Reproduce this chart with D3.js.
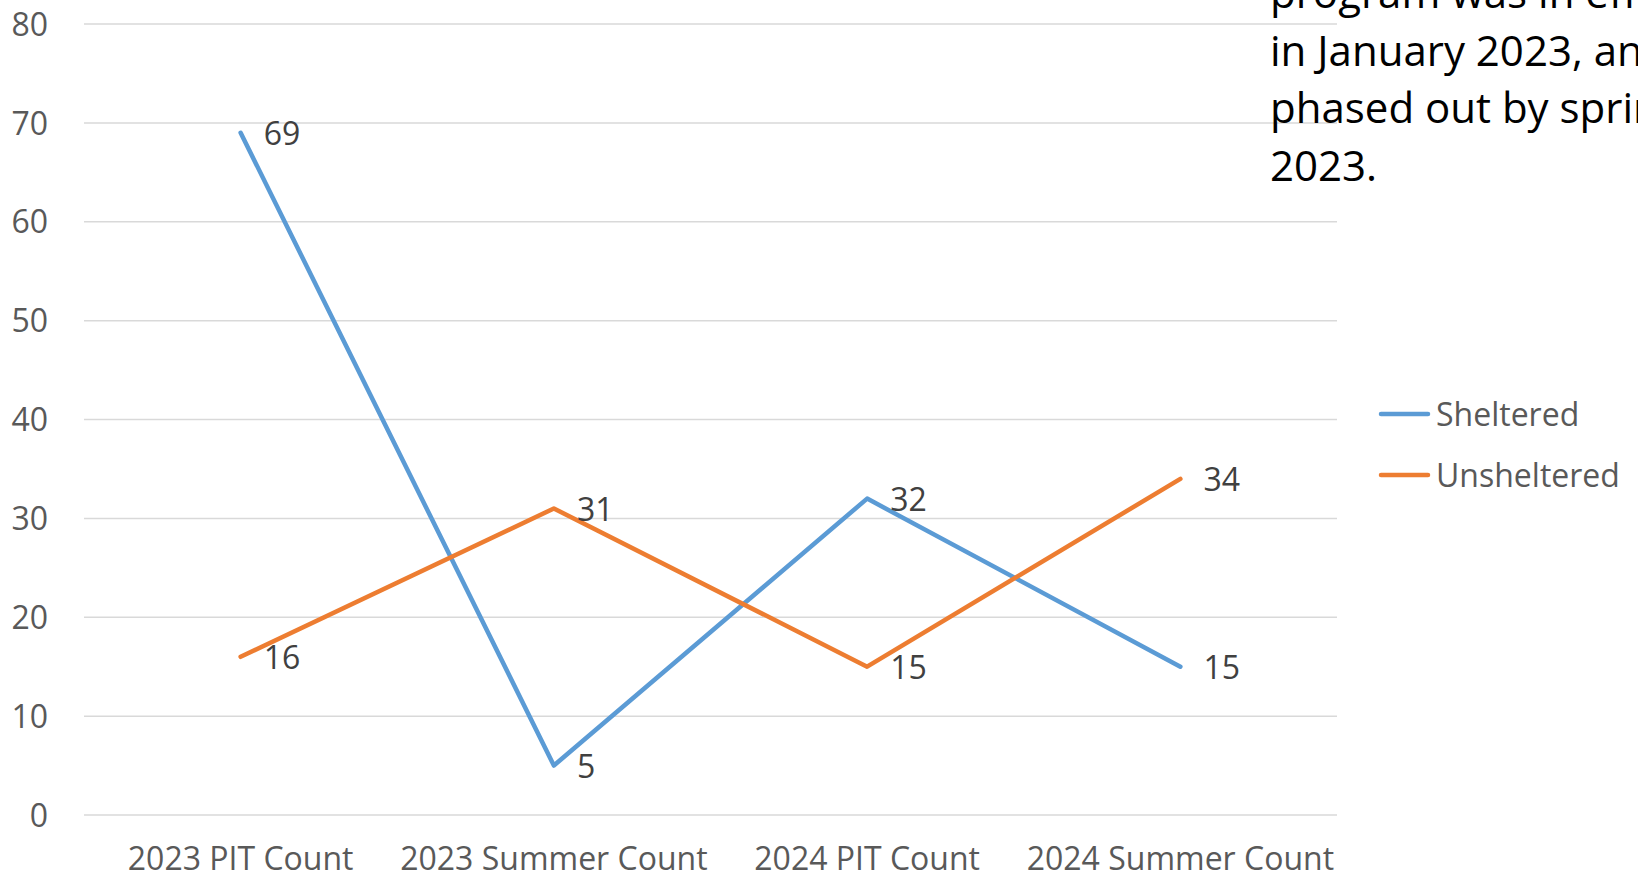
<!DOCTYPE html>
<html>
<head>
<meta charset="utf-8">
<script src="https://cdn.jsdelivr.net/npm/d3@7"></script>
<style>
  html, body { margin: 0; padding: 0; background: #fff; overflow: hidden; }
  svg { display: block; font-family: "Open Sans", "Noto Sans", sans-serif; }
</style>
</head>
<body>
<svg id="chart" width="1638" height="879"></svg>
<script>
const categories = ["2023 PIT Count", "2023 Summer Count", "2024 PIT Count", "2024 Summer Count"];
const sheltered = [69, 5, 32, 15];
const unsheltered = [16, 31, 15, 34];
const seriesNames = ["Sheltered", "Unsheltered"];
const seriesColors = ["#5B9BD5", "#ED7D31"];
const yTicks = [0, 10, 20, 30, 40, 50, 60, 70, 80];
const noteLines = ["program was in effect", "in January 2023, and", "phased out by spring", "2023."];

const series = [
  { name: seriesNames[0], values: sheltered, color: seriesColors[0] },
  { name: seriesNames[1], values: unsheltered, color: seriesColors[1] }
];

const svg = d3.select("#chart");
const plotLeft = 84, plotRight = 1337, plotTop = 24, plotBottom = 815;
const fs = 32;

const x = d3.scaleBand().domain(categories).range([plotLeft, plotRight]).paddingInner(0).paddingOuter(0);
const y = d3.scaleLinear().domain([0, 80]).range([plotBottom, plotTop]);
const cx = c => x(c) + x.bandwidth() / 2;

// gridlines
svg.append("g").selectAll("line").data(yTicks).join("line")
  .attr("x1", plotLeft).attr("x2", plotRight)
  .attr("y1", d => y(d)).attr("y2", d => y(d))
  .attr("stroke", "#D9D9D9").attr("stroke-width", 1.5);

// y axis labels
const yAxis = d3.axisLeft(y).tickValues(yTicks).tickSize(0).tickPadding(0);
const gy = svg.append("g").attr("transform", `translate(48,0)`).call(yAxis);
gy.select(".domain").remove();
gy.selectAll("text").attr("font-size", fs).attr("fill", "#595959")
  .attr("font-family", "Open Sans, Noto Sans, sans-serif").attr("dy", "0.35em");

// x axis labels
const xAxis = d3.axisBottom(x).tickSize(0).tickPadding(0);
const gx = svg.append("g").attr("transform", `translate(0,${plotBottom})`).call(xAxis);
gx.select(".domain").remove();
gx.selectAll("text").attr("font-size", fs).attr("fill", "#595959")
  .attr("font-family", "Open Sans, Noto Sans, sans-serif").attr("dy", null).attr("y", 55);

// lines
const line = d3.line().x((d, i) => cx(categories[i])).y(d => y(d));
svg.append("g").selectAll("path").data(series).join("path")
  .attr("d", s => line(s.values))
  .attr("fill", "none").attr("stroke", s => s.color).attr("stroke-width", 4.5)
  .attr("stroke-linecap", "round").attr("stroke-linejoin", "round");

// data labels
series.forEach(s => {
  svg.append("g").selectAll("text").data(s.values).join("text")
    .attr("x", (d, i) => cx(categories[i]) + 23)
    .attr("y", d => y(d))
    .attr("dy", "0.38em")
    .attr("font-size", fs).attr("fill", "#404040")
    .text(d => d);
});

// legend
const legend = svg.append("g");
series.forEach((s, i) => {
  const ly = 414 + i * 61;
  legend.append("line").attr("x1", 1381).attr("x2", 1428).attr("y1", ly).attr("y2", ly)
    .attr("stroke", s.color).attr("stroke-width", 4.5).attr("stroke-linecap", "round");
  legend.append("text").attr("x", 1436).attr("y", ly).attr("dy", "0.36em")
    .attr("font-size", fs).attr("fill", "#595959").text(s.name);
});

// annotation text
svg.append("g").selectAll("text").data(noteLines).join("text")
  .attr("x", 1270).attr("y", (d, i) => 8 + i * 57.5)
  .attr("font-size", 42).attr("fill", "#000")
  .text(d => d);
</script>
</body>
</html>
